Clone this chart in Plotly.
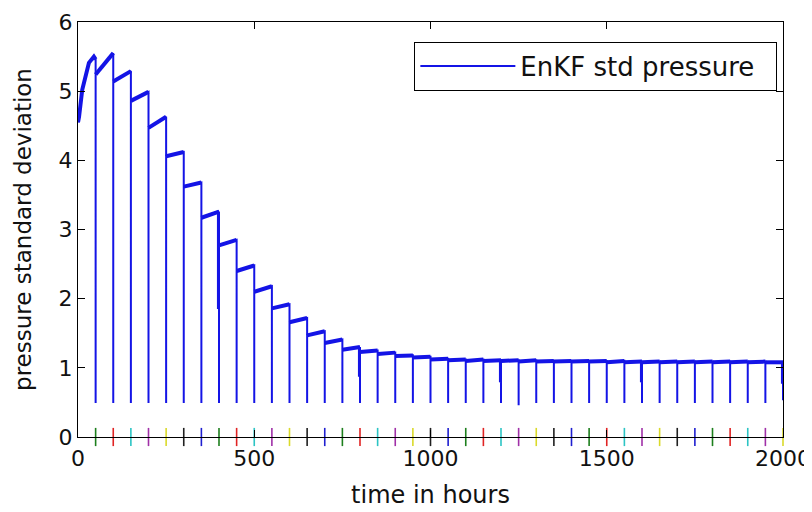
import plotly.graph_objects as go

# ---------------- data ----------------
# first forecast segment (0-50 h)
initial_hours = [0, 3, 12, 22, 31, 45]
initial_values = [4.55, 4.63, 5.02, 5.21, 5.41, 5.50]

# assimilation times (hours)
analysis_hours = [50, 100, 150, 200, 250, 300, 350, 400, 450, 500,
                  550, 600, 650, 700, 750, 800, 850, 900, 950, 1000,
                  1050, 1100, 1150, 1200, 1250, 1300, 1350, 1400, 1450, 1500,
                  1550, 1600, 1650, 1700, 1750, 1800, 1850, 1900, 1950, 2000]

# std just before each assimilation
forecast_end = [5.46, 5.55, 5.29, 4.99, 4.63, 4.12, 3.68, 3.26, 2.85, 2.48,
                2.18, 1.92, 1.72, 1.53, 1.41, 1.30, 1.25, 1.22, 1.18, 1.16,
                1.13, 1.12, 1.12, 1.11, 1.11, 1.11, 1.10, 1.10, 1.10, 1.10,
                1.10, 1.09, 1.09, 1.09, 1.09, 1.09, 1.09, 1.09, 1.09, 1.08]

# minimum reached at each assimilation (the vertical drops)
drop_floor = [0.49, 0.49, 0.49, 0.49, 0.49, 0.49, 0.49, 0.49, 0.49, 0.49,
              0.49, 0.49, 0.49, 0.49, 0.49, 0.49, 0.49, 0.49, 0.49, 0.49,
              0.49, 0.49, 0.49, 0.49, 0.46, 0.49, 0.49, 0.49, 0.49, 0.49,
              0.49, 0.49, 0.49, 0.49, 0.49, 0.49, 0.49, 0.49, 0.49, 0.53]

# std right after each assimilation (start of next forecast)
analysis_start = [5.24, 5.14, 4.86, 4.47, 4.06, 3.62, 3.17, 2.77, 2.40, 2.10,
                  1.86, 1.66, 1.47, 1.36, 1.26, 1.23, 1.20, 1.17, 1.15, 1.12,
                  1.11, 1.10, 1.10, 1.10, 1.09, 1.09, 1.09, 1.09, 1.09, 1.08,
                  1.08, 1.08, 1.08, 1.08, 1.08, 1.08, 1.08, 1.08, 1.08]

# short dips just before some assimilations
dip_hours = [397, 797, 1197, 1597, 1997]
dip_values = [1.85, 0.87, 0.79, 0.79, 0.77]

# MATLAB colour order used for the observation markers on the time axis
marker_palette = ['#1f1fd0', '#1d7f1d', '#e02424', '#2cc4c4', '#a030a8', '#dada2a', '#202020']

# ---------------- build the line from the arrays ----------------
line_x = list(initial_hours)
line_y = list(initial_values)
seg_x = list(initial_hours)
seg_y = list(initial_values)
dips = dict(zip(dip_hours, dip_values))
for k, h in enumerate(analysis_hours):
    for dh, dv in dips.items():
        if h - 50 < dh < h:
            line_x += [dh, dh]
            line_y += [forecast_end[k], dv]
    line_x.append(h); line_y.append(forecast_end[k])
    seg_x.append(h); seg_y.append(forecast_end[k])
    seg_x.append(None); seg_y.append(None)
    line_x.append(h); line_y.append(drop_floor[k])
    if k < len(analysis_start):
        line_x.append(h); line_y.append(analysis_start[k])
        seg_x.append(h); seg_y.append(analysis_start[k])

tick_colors = [marker_palette[(i + 1) % 7] for i in range(len(analysis_hours))]

blue = '#1414e6'
fig = go.Figure()
fig.add_trace(go.Scatter(x=seg_x, y=seg_y, mode='lines', showlegend=False,
                         line=dict(color=blue, width=4), hoverinfo='skip',
                         connectgaps=False))
fig.add_trace(go.Scatter(x=line_x, y=line_y, mode='lines',
                         name='EnKF std pressure\u00a0\u00a0',
                         line=dict(color=blue, width=2)))
fig.add_trace(go.Scatter(x=analysis_hours, y=[0] * len(analysis_hours), mode='markers',
                         showlegend=False, cliponaxis=False,
                         marker=dict(symbol='line-ns', size=13,
                                     line=dict(color=tick_colors, width=1.6))))

font = 'DejaVu Sans'
axis_common = dict(showline=True, linecolor='black', linewidth=1, mirror='ticks',
                   ticks='inside', ticklen=7, tickcolor='black', showgrid=False,
                   zeroline=False, automargin=False,
                   tickfont=dict(family=font, size=22, color='#111'))
fig.update_xaxes(range=[0, 2000], tickvals=[0, 500, 1000, 1500, 2000],
                 ticklabelstandoff=2,
                 title=dict(text='time in hours', font=dict(family=font, size=24, color='#111'),
                            standoff=15),
                 **axis_common)
fig.update_yaxes(range=[0, 6], tickvals=[0, 1, 2, 3, 4, 5, 6],
                 title=dict(text='pressure standard deviation',
                            font=dict(family=font, size=23, color='#111'), standoff=20),
                 **axis_common)
# the page body adds an 8 px offset, so the figure is 8 px smaller than the window
fig.update_layout(
    width=804, height=504,
    margin=dict(l=70, r=29, t=14, b=75),
    paper_bgcolor='white', plot_bgcolor='white',
    legend=dict(x=0.992, y=0.953, xanchor='right', yanchor='top',
                bgcolor='white', bordercolor='black', borderwidth=1,
                font=dict(family=font, size=26, color='#111'), itemwidth=95),
)
fig.write_html('out.html')
